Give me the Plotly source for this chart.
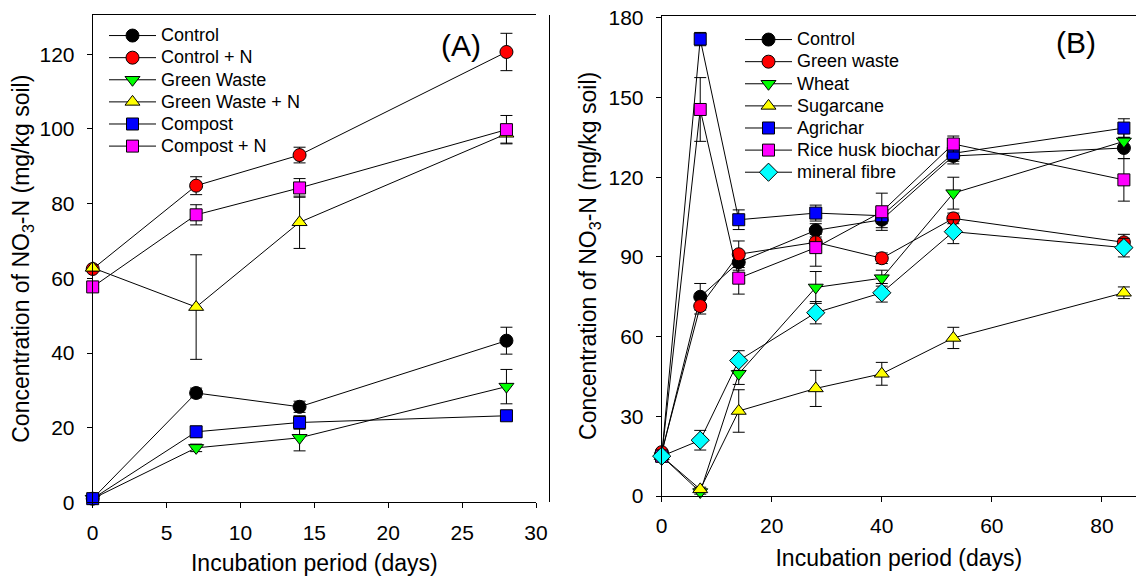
import plotly.graph_objects as go

# ---------------- Data: panel A ----------------
a_days = [0, 7, 14, 28]
a_control = [1.0, 29.3, 25.6, 43.3]
a_control_err = [0.5, 1.3, 1.5, 3.6]
a_control_n = [62.5, 84.8, 93.0, 120.6]
a_control_n_err = [0.5, 2.4, 2.1, 5.0]
a_gw = [1.0, 14.6, 17.3, 31.0]
a_gw_err = [0.5, 1.0, 3.5, 4.6]
a_gw_n = [62.8, 52.3, 75.0, 98.7]
a_gw_n_err = [0.8, 14.0, 7.0, 2.5]
a_compost = [1.0, 18.9, 21.4, 23.2]
a_compost_err = [0.5, 1.5, 1.8, 1.0]
a_compost_n = [57.7, 77.0, 84.2, 99.8]
a_compost_n_err = [0.5, 2.7, 2.5, 3.8]

# ---------------- Data: panel B ----------------
b_days = [0, 7, 14, 28, 40, 53, 84]
b_control = [16.0, 75.0, 88.0, 100.0, 104.0, 128.0, 131.0]
b_control_err = [1.0, 5.0, 3.0, 2.5, 3.0, 3.0, 4.0]
b_green = [16.5, 71.5, 91.0, 95.5, 89.5, 104.5, 95.5]
b_green_err = [1.0, 3.0, 5.0, 3.0, 2.0, 2.0, 3.0]
b_wheat = [15.0, 1.5, 46.0, 78.5, 82.0, 114.0, 133.5]
b_wheat_err = [1.0, 0.8, 4.0, 6.0, 3.0, 6.0, 3.0]
b_sugar = [15.0, 2.5, 32.0, 40.5, 46.0, 59.5, 76.5]
b_sugar_err = [1.0, 0.8, 8.0, 6.8, 4.3, 4.0, 2.2]
b_agri = [15.0, 172.0, 104.0, 106.5, 105.5, 129.0, 138.5]
b_agri_err = [1.0, 2.5, 3.7, 3.0, 3.0, 3.0, 3.5]
b_rice = [15.0, 145.5, 82.0, 93.5, 107.0, 132.5, 119.0]
b_rice_err = [1.0, 12.0, 6.0, 7.0, 7.0, 3.0, 8.0]
b_mineral = [15.0, 21.0, 51.0, 69.0, 76.5, 99.5, 93.5]
b_mineral_err = [1.0, 3.7, 3.7, 4.2, 3.5, 4.5, 3.5]

a_series = [
    ("Control", a_control, a_control_err, "circle", "black"),
    ("Control + N", a_control_n, a_control_n_err, "circle", "red"),
    ("Green Waste", a_gw, a_gw_err, "triangle-down", "#00ff00"),
    ("Green Waste + N", a_gw_n, a_gw_n_err, "triangle-up", "yellow"),
    ("Compost", a_compost, a_compost_err, "square", "blue"),
    ("Compost + N", a_compost_n, a_compost_n_err, "square", "magenta"),
]
b_series = [
    ("Control", b_control, b_control_err, "circle", "black"),
    ("Green waste", b_green, b_green_err, "circle", "red"),
    ("Wheat", b_wheat, b_wheat_err, "triangle-down", "#00ff00"),
    ("Sugarcane", b_sugar, b_sugar_err, "triangle-up", "yellow"),
    ("Agrichar", b_agri, b_agri_err, "square", "blue"),
    ("Rice husk biochar", b_rice, b_rice_err, "square", "magenta"),
    ("mineral fibre", b_mineral, b_mineral_err, "diamond", "cyan"),
]

FONT = "Liberation Sans, Arial, sans-serif"
msize = {"circle": 13, "triangle-down": 13, "triangle-up": 13, "square": 12, "diamond": 14}

fig = go.Figure()

def add(series, days, xa, ya, legend):
    for name, vals, err, sym, col in series:
        fig.add_trace(go.Scatter(
            x=days, y=vals, name='<span style="font-size:18px">%s</span>' % name,
            mode="lines+markers",
            xaxis=xa, yaxis=ya, legend=legend, cliponaxis=False,
            line=dict(color="black", width=1),
            marker=dict(symbol=sym, size=msize[sym], color=col,
                        line=dict(color="black", width=1)),
            error_y=dict(type="data", array=err, visible=True,
                         color="black", thickness=1, width=6),
        ))

add(a_series, a_days, "x", "y", "legend")
add(b_series, b_days, "x2", "y2", "legend2")

axis_common = dict(showline=True, linecolor="black", linewidth=1, ticks="outside",
                   ticklen=5, tickcolor="black", showgrid=False, zeroline=False,
                   automargin=False,
                   tickfont=dict(family=FONT, size=21, color="black"))

ytitle = "Concentration of NO<sub>3</sub>-N (mg/kg soil)"
xtitle = "Incubation period (days)"
TF = dict(family=FONT, size=23, color="black")

fig.update_layout(
    width=1136, height=576,
    margin=dict(l=0, r=0, t=0, b=0),
    paper_bgcolor="white", plot_bgcolor="white",
    font=dict(family=FONT, size=18, color="black"),
    xaxis=dict(domain=[92.7/1136, 536/1136], range=[0, 30], tickvals=[0, 5, 10, 15, 20, 25, 30],
               mirror=True, anchor="y", ticklabelstandoff=6,
               title=dict(text=xtitle, font=TF, standoff=13), **axis_common),
    yaxis=dict(domain=[1-502.4/576, 1-15/576], range=[0, 130.5], tickvals=[0, 20, 40, 60, 80, 100, 120],
               anchor="x", ticklabelstandoff=8,
               title=dict(text=ytitle, font=TF, standoff=3), **axis_common),
    xaxis2=dict(domain=[661.7/1136, 1.0], range=[0, 86.2], tickvals=[0, 20, 40, 60, 80],
                mirror=True, anchor="y2", ticklabelstandoff=6,
                title=dict(text=xtitle, font=TF, standoff=13), **axis_common),
    yaxis2=dict(domain=[1-496/576, 1-15.7/576], range=[0, 180.8], tickvals=[0, 30, 60, 90, 120, 150, 180],
                anchor="x2", ticklabelstandoff=8,
                title=dict(text=ytitle, font=TF, standoff=5), **axis_common),
    legend=dict(x=104/1136, y=1-19.5/576, xanchor="left", yanchor="top", itemwidth=47,
                bgcolor="rgba(0,0,0,0)", font=dict(family=FONT, size=14.7), tracegroupgap=0),
    legend2=dict(x=740/1136, y=1-23.5/576, xanchor="left", yanchor="top", itemwidth=47,
                 bgcolor="rgba(0,0,0,0)", font=dict(family=FONT, size=14.7), tracegroupgap=0),
    showlegend=True,
    annotations=[
        dict(text="(A)", x=461/1136, y=1-45/576, xref="paper", yref="paper",
             xanchor="center", yanchor="middle",
             showarrow=False, font=dict(family=FONT, size=30)),
        dict(text="(B)", x=1076/1136, y=1-42.5/576, xref="paper", yref="paper",
             xanchor="center", yanchor="middle",
             showarrow=False, font=dict(family=FONT, size=30)),
    ],
    shapes=[
        dict(type="line", xref="paper", yref="paper", x0=549.5/1136, x1=549.5/1136,
             y0=1-502/576, y1=1-15/576, line=dict(color="black", width=1)),
    ],
)

fig.write_html("out.html", config={"displayModeBar": False},
               post_script="document.body.style.margin='0';document.body.style.overflow='hidden';")
